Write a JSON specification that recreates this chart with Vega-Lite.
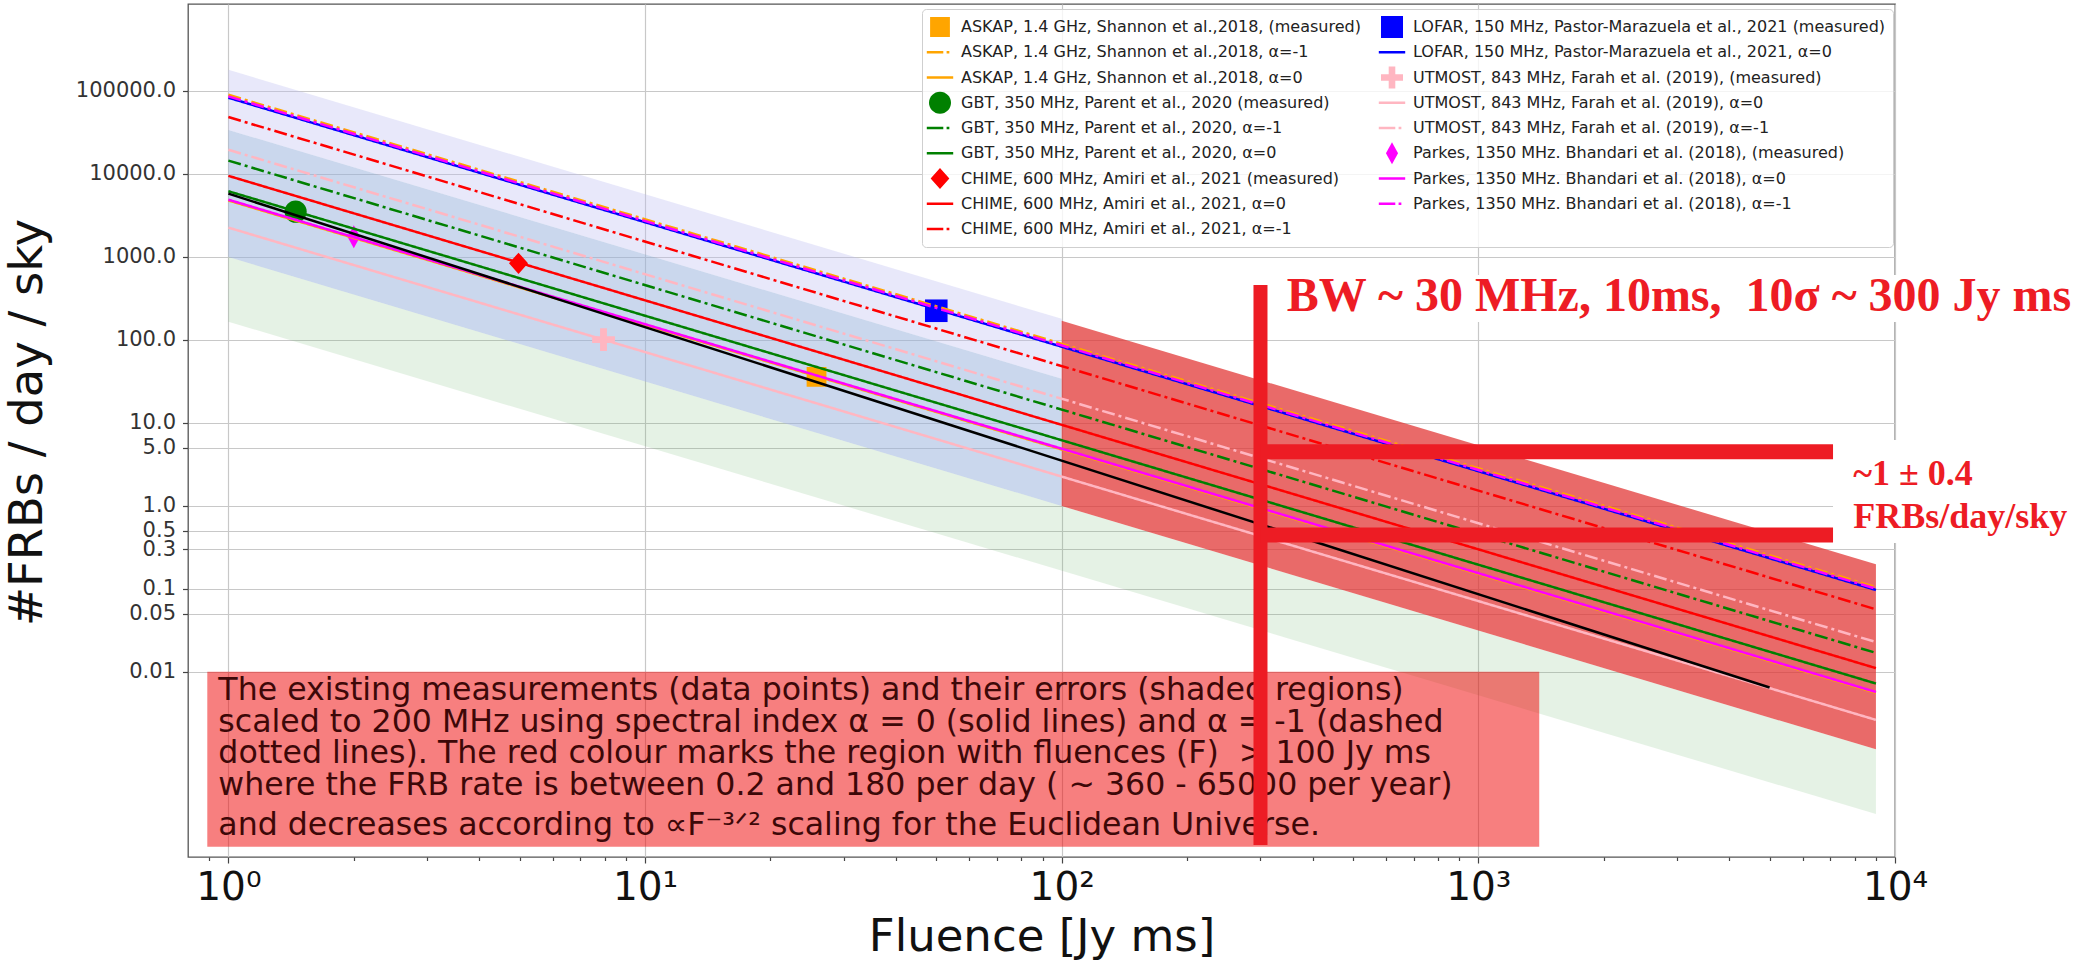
{
  "$schema": "https://vega.github.io/schema/vega-lite/v6.json",
  "width": 1707,
  "height": 853,
  "autosize": {"type": "none"},
  "padding": {"left": 188, "top": 4, "right": 185, "bottom": 105},
  "background": "white",
  "config": {"view": {"stroke": "#555555", "strokeWidth": 1.3}, "font": "DejaVu Sans"},
  "datasets": {
    "bands": [
      {"band": "lav", "F": 1, "hi": 180000, "lo": 34000},
      {"band": "lav", "F": 100, "hi": 180, "lo": 34},
      {"band": "gb", "F": 1, "hi": 34000, "lo": 1000},
      {"band": "gb", "F": 100, "hi": 34, "lo": 1},
      {"band": "grn", "F": 1, "hi": 1000, "lo": 166},
      {"band": "grn", "F": 9000, "hi": 0.00117, "lo": 0.000194}
    ],
    "redband": [
      {"F": 100, "hi": 170, "lo": 1.0},
      {"F": 9000, "hi": 0.199, "lo": 0.00117}
    ],
    "points": [
      {"s": "ASKAP, 1.4 GHz, Shannon et al.,2018, (measured)", "F": 25.8, "r": 36},
      {"s": "GBT, 350 MHz, Parent et al., 2020 (measured)", "F": 1.45, "r": 3515},
      {"s": "CHIME, 600 MHz, Amiri et al., 2021 (measured)", "F": 4.97, "r": 840},
      {"s": "LOFAR, 150 MHz, Pastor-Marazuela et al., 2021 (measured)", "F": 50, "r": 225},
      {"s": "UTMOST, 843 MHz, Farah et al. (2019), (measured)", "F": 7.95, "r": 101},
      {"s": "Parkes, 1350 MHz. Bhandari et al. (2018), (measured)", "F": 2.0, "r": 1757}
    ],
    "lines": [
      {"s": "UTMOST, 843 MHz, Farah et al. (2019), α=0", "d": "solid", "F": 1, "r": 2260},
      {"s": "UTMOST, 843 MHz, Farah et al. (2019), α=0", "d": "solid", "F": 9000, "r": 0.002647},
      {"s": "ASKAP, 1.4 GHz, Shannon et al.,2018, α=0", "d": "solid", "F": 1, "r": 4800},
      {"s": "ASKAP, 1.4 GHz, Shannon et al.,2018, α=0", "d": "solid", "F": 9000, "r": 0.005622},
      {"s": "Parkes, 1350 MHz. Bhandari et al. (2018), α=0", "d": "solid", "F": 1, "r": 4900},
      {"s": "Parkes, 1350 MHz. Bhandari et al. (2018), α=0", "d": "solid", "F": 9000, "r": 0.005739},
      {"s": "GBT, 350 MHz, Parent et al., 2020, α=0", "d": "solid", "F": 1, "r": 6200},
      {"s": "GBT, 350 MHz, Parent et al., 2020, α=0", "d": "solid", "F": 9000, "r": 0.0072615},
      {"s": "CHIME, 600 MHz, Amiri et al., 2021, α=0", "d": "solid", "F": 1, "r": 9500},
      {"s": "CHIME, 600 MHz, Amiri et al., 2021, α=0", "d": "solid", "F": 9000, "r": 0.011127},
      {"s": "GBT, 350 MHz, Parent et al., 2020, α=-1", "d": "dd", "F": 1, "r": 14500},
      {"s": "GBT, 350 MHz, Parent et al., 2020, α=-1", "d": "dd", "F": 9000, "r": 0.016983},
      {"s": "UTMOST, 843 MHz, Farah et al. (2019), α=-1", "d": "dd", "F": 1, "r": 19600},
      {"s": "UTMOST, 843 MHz, Farah et al. (2019), α=-1", "d": "dd", "F": 9000, "r": 0.022956},
      {"s": "CHIME, 600 MHz, Amiri et al., 2021, α=-1", "d": "dd", "F": 1, "r": 48500},
      {"s": "CHIME, 600 MHz, Amiri et al., 2021, α=-1", "d": "dd", "F": 9000, "r": 0.056804},
      {"s": "ASKAP, 1.4 GHz, Shannon et al.,2018, α=-1", "d": "dd", "F": 1, "r": 90000},
      {"s": "ASKAP, 1.4 GHz, Shannon et al.,2018, α=-1", "d": "dd", "F": 9000, "r": 0.10541},
      {"s": "LOFAR, 150 MHz, Pastor-Marazuela et al., 2021, α=0", "d": "solid", "F": 1, "r": 83000},
      {"s": "LOFAR, 150 MHz, Pastor-Marazuela et al., 2021, α=0", "d": "solid", "F": 9000, "r": 0.097211},
      {"s": "Parkes, 1350 MHz. Bhandari et al. (2018), α=-1", "d": "dd", "F": 1, "r": 86000},
      {"s": "Parkes, 1350 MHz. Bhandari et al. (2018), α=-1", "d": "dd", "F": 9000, "r": 0.100724}
    ],
    "blackline": [
      {"F": 1, "r": 5800},
      {"F": 5000, "r": 0.0065}
    ],
    "textbox": [
      {"F": 0.89, "F2": 1400, "top": 0.01009, "bottom": 0.0000785}
    ],
    "boxtext": [
      {"t": "The existing measurements (data points) and their errors (shaded regions)\nscaled to 200 MHz using spectral index α = 0 (solid lines) and α = -1 (dashed\ndotted lines). The red colour marks the region with fluences (F)\u00a0 > 100 Jy ms\nwhere the FRB rate is between 0.2 and 180 per day ( ~ 360 - 65000 per year)", "F": 0.946, "r": 0.004539}
    ],
    "boxtext2": [
      {"t": "and decreases according to ∝F⁻³ᐟ² scaling for the Euclidean Universe.", "F": 0.946, "r": 0.0001087}
    ],
    "whiteboxes": [
      {"F": 326, "F2": 27700, "top": 607, "bottom": 165},
      {"F": 7100, "F2": 27700, "top": 6.24, "bottom": 0.358}
    ],
    "vbar": [
      {"F": 300, "top": 460, "bottom": 0.0000824}
    ],
    "hbars": [
      {"F": 300, "F2": 7100, "r": 4.5},
      {"F": 300, "F2": 7100, "r": 0.447}
    ],
    "bwtext": [
      {"t": "BW ~ 30 MHz, 10ms,\u00a0 10σ ~ 300 Jy ms", "F": 347, "r": 224}
    ],
    "ratetext": [
      {"t": "~1 ± 0.4", "F": 7940, "r": 1.79},
      {"t": "FRBs/day/sky", "F": 7940, "r": 0.543}
    ]
  },
  "layer": [
    {
      "data": {"name": "bands"},
      "mark": {"type": "area", "line": false},
      "encoding": {
        "x": {
          "field": "F", "type": "quantitative",
          "scale": {"type": "log", "domain": [0.8, 10000], "nice": false, "zero": false},
          "axis": {
            "values": [0.9, 1, 2, 3, 4, 5, 6, 7, 8, 9, 10, 20, 30, 40, 50, 60, 70, 80, 90, 100, 200, 300, 400, 500, 600, 700, 800, 900, 1000, 2000, 3000, 4000, 5000, 6000, 7000, 8000, 9000, 10000],
            "title": "Fluence [Jy ms]",
            "titleFont": "DejaVu Sans", "titleFontSize": 45, "titleFontWeight": "normal", "titleColor": "#111111",
            "titleX": 853.5, "titleY": 93, "titleAlign": "center", "titleBaseline": "alphabetic",
            "labelExpr": "abs(log(datum.value)/LN10 - round(log(datum.value)/LN10)) < 0.001 ? '10' + ['⁰','¹','²','³','⁴'][round(log(datum.value)/LN10)] : ''",
            "labelFont": "DejaVu Sans", "labelFontSize": 39, "labelColor": "#111111",
            "labelBaseline": "alphabetic", "labelAlign": "center", "labelPadding": 36,
            "labelOverlap": false, "labelFlush": false, "labelBound": false,
            "tickSize": {"condition": {"test": "abs(log(datum.value)/LN10 - round(log(datum.value)/LN10)) < 0.001", "value": 6}, "value": 3.5},
            "tickColor": "#444444", "tickWidth": 1.2,
            "grid": true, "gridColor": "#c8c8c8", "gridWidth": 1.2,
            "gridOpacity": {"condition": {"test": "abs(log(datum.value)/LN10 - round(log(datum.value)/LN10)) < 0.001", "value": 1}, "value": 0},
            "domain": false
          }
        },
        "y": {
          "field": "hi", "type": "quantitative", "stack": null,
          "scale": {"type": "log", "domain": [0.000059, 1117000], "nice": false, "zero": false},
          "axis": {
            "values": [0.01, 0.05, 0.1, 0.3, 0.5, 1, 5, 10, 100, 1000, 10000, 100000],
            "labelExpr": "datum.value >= 0.1 ? format(datum.value, '.1f') : format(datum.value, '.2f')",
            "labelFont": "DejaVu Sans", "labelFontSize": 21, "labelColor": "#333333", "labelPadding": 7,
            "labelOverlap": false, "labelFlush": false, "labelBound": false, "labelBaseline": "middle",
            "tickSize": 5.5, "tickColor": "#444444", "tickWidth": 1.2,
            "grid": true, "gridColor": "#c8c8c8", "gridWidth": 1.2,
            "domain": false,
            "title": "#FRBs / day / sky",
            "titleFont": "DejaVu Sans", "titleFontSize": 46.5, "titleFontWeight": "normal", "titleColor": "#111111",
            "titleAngle": 270, "titleX": -147, "titleY": 418, "titleAlign": "center", "titleBaseline": "alphabetic"
          }
        },
        "y2": {"field": "lo"},
        "fill": {
          "field": "band", "type": "nominal",
          "scale": {"domain": ["lav", "gb", "grn"], "range": ["rgba(190,190,240,0.35)", "rgba(150,175,220,0.5)", "rgba(100,180,100,0.17)"]},
          "legend": null
        }
      }
    },
    {
      "data": {"name": "redband"},
      "mark": {"type": "area", "line": false, "color": "#e0302f", "opacity": 0.72},
      "encoding": {
        "x": {"field": "F", "type": "quantitative"},
        "y": {"field": "hi", "type": "quantitative", "stack": null},
        "y2": {"field": "lo"}
      }
    },
    {
      "data": {"name": "points"},
      "mark": {"type": "point", "filled": true, "opacity": 1, "strokeWidth": 0},
      "encoding": {
        "x": {"field": "F", "type": "quantitative"},
        "y": {"field": "r", "type": "quantitative"},
        "size": {
          "field": "s", "type": "nominal",
          "scale": {
            "domain": [
              "ASKAP, 1.4 GHz, Shannon et al.,2018, (measured)",
              "GBT, 350 MHz, Parent et al., 2020 (measured)",
              "CHIME, 600 MHz, Amiri et al., 2021 (measured)",
              "LOFAR, 150 MHz, Pastor-Marazuela et al., 2021 (measured)",
              "UTMOST, 843 MHz, Farah et al. (2019), (measured)",
              "Parkes, 1350 MHz. Bhandari et al. (2018), (measured)"
            ],
            "range": [484, 529, 576, 529, 484, 900]
          },
          "legend": null
        },
        "shape": {
          "field": "s", "type": "nominal",
          "scale": {
            "domain": [
              "ASKAP, 1.4 GHz, Shannon et al.,2018, (measured)",
              "ASKAP, 1.4 GHz, Shannon et al.,2018, α=-1",
              "ASKAP, 1.4 GHz, Shannon et al.,2018, α=0",
              "GBT, 350 MHz, Parent et al., 2020 (measured)",
              "GBT, 350 MHz, Parent et al., 2020, α=-1",
              "GBT, 350 MHz, Parent et al., 2020, α=0",
              "CHIME, 600 MHz, Amiri et al., 2021 (measured)",
              "CHIME, 600 MHz, Amiri et al., 2021, α=0",
              "CHIME, 600 MHz, Amiri et al., 2021, α=-1",
              "LOFAR, 150 MHz, Pastor-Marazuela et al., 2021 (measured)",
              "LOFAR, 150 MHz, Pastor-Marazuela et al., 2021, α=0",
              "UTMOST, 843 MHz, Farah et al. (2019), (measured)",
              "UTMOST, 843 MHz, Farah et al. (2019), α=0",
              "UTMOST, 843 MHz, Farah et al. (2019), α=-1",
              "Parkes, 1350 MHz. Bhandari et al. (2018), (measured)",
              "Parkes, 1350 MHz. Bhandari et al. (2018), α=0",
              "Parkes, 1350 MHz. Bhandari et al. (2018), α=-1"
            ],
            "range": [
              "M0,-1L0,-1ZM0,1L0,1ZM-0.9,-0.9H0.9V0.9H-0.9Z",
              "M0,-1L0,-1ZM0,1L0,1ZM-1.2,-0.12H0.3V0.12H-1.2ZM0.6,-0.12H0.85V0.12H0.6Z",
              "M0,-1L0,-1ZM0,1L0,1ZM-1.2,-0.12H1.2V0.12H-1.2Z",
              "M-1,0A1,1,0,1,0,1,0A1,1,0,1,0,-1,0Z",
              "M0,-1L0,-1ZM0,1L0,1ZM-1.2,-0.12H0.3V0.12H-1.2ZM0.6,-0.12H0.85V0.12H0.6Z",
              "M0,-1L0,-1ZM0,1L0,1ZM-1.2,-0.12H1.2V0.12H-1.2Z",
              "M0,-1L0,-1ZM0,1L0,1ZM0,-0.95L0.85,0L0,0.95L-0.85,0Z",
              "M0,-1L0,-1ZM0,1L0,1ZM-1.2,-0.12H1.2V0.12H-1.2Z",
              "M0,-1L0,-1ZM0,1L0,1ZM-1.2,-0.12H0.3V0.12H-1.2ZM0.6,-0.12H0.85V0.12H0.6Z",
              "M-1,-1H1V1H-1Z",
              "M0,-1L0,-1ZM0,1L0,1ZM-1.2,-0.12H1.2V0.12H-1.2Z",
              "M-0.3,-1H0.3V-0.3H1V0.3H0.3V1H-0.3V0.3H-1V-0.3H-0.3Z",
              "M0,-1L0,-1ZM0,1L0,1ZM-1.2,-0.12H1.2V0.12H-1.2Z",
              "M0,-1L0,-1ZM0,1L0,1ZM-1.2,-0.12H0.3V0.12H-1.2ZM0.6,-0.12H0.85V0.12H0.6Z",
              "M0,-1L0.55,0L0,1L-0.55,0Z",
              "M0,-1L0,-1ZM0,1L0,1ZM-1.2,-0.12H1.2V0.12H-1.2Z",
              "M0,-1L0,-1ZM0,1L0,1ZM-1.2,-0.12H0.3V0.12H-1.2ZM0.6,-0.12H0.85V0.12H0.6Z"
            ]
          },
          "legend": {
            "title": null, "orient": "none", "legendX": 734, "legendY": 5,
            "direction": "vertical", "columns": 2,
            "symbolSize": 484, "symbolStrokeWidth": 0,
            "labelFont": "DejaVu Sans", "labelFontSize": 16, "labelColor": "#222222", "labelLimit": 800,
            "labelOffset": 10, "rowPadding": 3.25, "columnPadding": 17, "padding": 7,
            "strokeColor": "#cfcfcf", "fillColor": "rgba(255,255,255,0.8)", "cornerRadius": 4
          }
        },
        "color": {
          "field": "s", "type": "nominal",
          "scale": {
            "domain": [
              "ASKAP, 1.4 GHz, Shannon et al.,2018, (measured)",
              "ASKAP, 1.4 GHz, Shannon et al.,2018, α=-1",
              "ASKAP, 1.4 GHz, Shannon et al.,2018, α=0",
              "GBT, 350 MHz, Parent et al., 2020 (measured)",
              "GBT, 350 MHz, Parent et al., 2020, α=-1",
              "GBT, 350 MHz, Parent et al., 2020, α=0",
              "CHIME, 600 MHz, Amiri et al., 2021 (measured)",
              "CHIME, 600 MHz, Amiri et al., 2021, α=0",
              "CHIME, 600 MHz, Amiri et al., 2021, α=-1",
              "LOFAR, 150 MHz, Pastor-Marazuela et al., 2021 (measured)",
              "LOFAR, 150 MHz, Pastor-Marazuela et al., 2021, α=0",
              "UTMOST, 843 MHz, Farah et al. (2019), (measured)",
              "UTMOST, 843 MHz, Farah et al. (2019), α=0",
              "UTMOST, 843 MHz, Farah et al. (2019), α=-1",
              "Parkes, 1350 MHz. Bhandari et al. (2018), (measured)",
              "Parkes, 1350 MHz. Bhandari et al. (2018), α=0",
              "Parkes, 1350 MHz. Bhandari et al. (2018), α=-1"
            ],
            "range": ["#ffa500", "#ffa500", "#ffa500", "#008000", "#008000", "#008000", "#ff0000", "#ff0000", "#ff0000", "#0000ff", "#0000ff", "#ffb6c1", "#ffb6c1", "#ffb6c1", "#ff00ff", "#ff00ff", "#ff00ff"]
          },
          "legend": {
            "title": null, "orient": "none", "legendX": 734, "legendY": 5,
            "direction": "vertical", "columns": 2,
            "symbolSize": 484, "symbolStrokeWidth": 0,
            "labelFont": "DejaVu Sans", "labelFontSize": 16, "labelColor": "#222222", "labelLimit": 800,
            "labelOffset": 10, "rowPadding": 3.25, "columnPadding": 17, "padding": 7,
            "strokeColor": "#cfcfcf", "fillColor": "rgba(255,255,255,0.8)", "cornerRadius": 4
          }
        }
      }
    },
    {
      "data": {"name": "lines"},
      "mark": {"type": "line", "strokeWidth": 2.5},
      "encoding": {
        "x": {"field": "F", "type": "quantitative"},
        "y": {"field": "r", "type": "quantitative"},
        "color": {"field": "s", "type": "nominal", "legend": null},
        "strokeDash": {
          "field": "d", "type": "nominal",
          "scale": {"domain": ["solid", "dd"], "range": [[1, 0], [13, 4, 3, 4]]},
          "legend": null
        }
      }
    },
    {
      "data": {"name": "blackline"},
      "mark": {"type": "line", "strokeWidth": 2.5, "color": "#000000"},
      "encoding": {
        "x": {"field": "F", "type": "quantitative"},
        "y": {"field": "r", "type": "quantitative"}
      }
    },
    {
      "data": {"name": "textbox"},
      "mark": {"type": "rect", "color": "#f00000", "opacity": 0.5},
      "encoding": {
        "x": {"field": "F", "type": "quantitative"},
        "x2": {"field": "F2"},
        "y": {"field": "top", "type": "quantitative"},
        "y2": {"field": "bottom"}
      }
    },
    {
      "data": {"name": "boxtext"},
      "mark": {"type": "text", "align": "left", "baseline": "alphabetic", "font": "DejaVu Sans", "fontSize": 31.6, "lineBreak": "\n", "lineHeight": 31.5, "color": "#3d0808"},
      "encoding": {
        "x": {"field": "F", "type": "quantitative"},
        "y": {"field": "r", "type": "quantitative"},
        "text": {"field": "t"}
      }
    },
    {
      "data": {"name": "boxtext2"},
      "mark": {"type": "text", "align": "left", "baseline": "alphabetic", "font": "DejaVu Sans", "fontSize": 31.6, "color": "#3d0808"},
      "encoding": {
        "x": {"field": "F", "type": "quantitative"},
        "y": {"field": "r", "type": "quantitative"},
        "text": {"field": "t"}
      }
    },
    {
      "data": {"name": "whiteboxes"},
      "mark": {"type": "rect", "color": "#ffffff", "opacity": 1},
      "encoding": {
        "x": {"field": "F", "type": "quantitative"},
        "x2": {"field": "F2"},
        "y": {"field": "top", "type": "quantitative"},
        "y2": {"field": "bottom"}
      }
    },
    {
      "data": {"name": "vbar"},
      "mark": {"type": "rule", "color": "#ed1c24", "strokeWidth": 14},
      "encoding": {
        "x": {"field": "F", "type": "quantitative"},
        "y": {"field": "top", "type": "quantitative"},
        "y2": {"field": "bottom"}
      }
    },
    {
      "data": {"name": "hbars"},
      "mark": {"type": "rule", "color": "#ed1c24", "strokeWidth": 15},
      "encoding": {
        "x": {"field": "F", "type": "quantitative"},
        "x2": {"field": "F2"},
        "y": {"field": "r", "type": "quantitative"}
      }
    },
    {
      "data": {"name": "bwtext"},
      "mark": {"type": "text", "align": "left", "baseline": "alphabetic", "font": "Liberation Serif", "fontWeight": "bold", "fontSize": 48, "color": "#ed1c24"},
      "encoding": {
        "x": {"field": "F", "type": "quantitative"},
        "y": {"field": "r", "type": "quantitative"},
        "text": {"field": "t"}
      }
    },
    {
      "data": {"name": "ratetext"},
      "mark": {"type": "text", "align": "left", "baseline": "alphabetic", "font": "Liberation Serif", "fontWeight": "bold", "fontSize": 36, "color": "#ed1c24"},
      "encoding": {
        "x": {"field": "F", "type": "quantitative"},
        "y": {"field": "r", "type": "quantitative"},
        "text": {"field": "t"}
      }
    }
  ]
}
